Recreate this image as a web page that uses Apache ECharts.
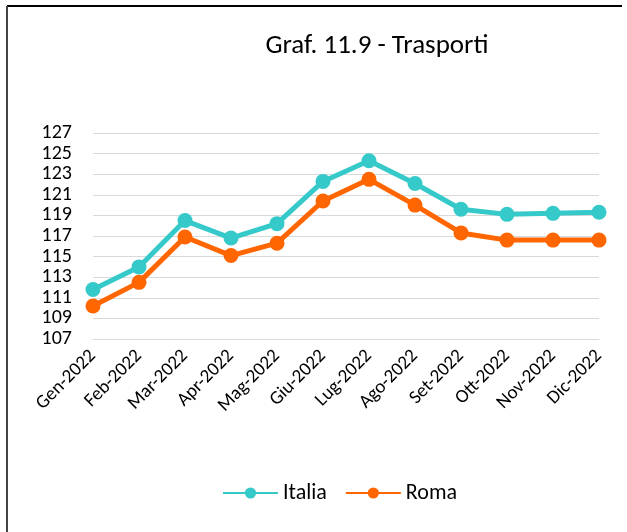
<!DOCTYPE html>
<html>
<head>
<meta charset="utf-8">
<script src="https://cdn.jsdelivr.net/npm/echarts@6/dist/echarts.min.js"></script>
<style>
    html, body {margin: 0; padding: 0; background: #fff;}
    #chart {width: 627px; height: 532px;}
</style>
</head>
<body>
<div id="chart"></div>
<script>
const months = ["Gen-2022", "Feb-2022", "Mar-2022", "Apr-2022", "Mag-2022", "Giu-2022",
    "Lug-2022", "Ago-2022", "Set-2022", "Ott-2022", "Nov-2022", "Dic-2022"];
const italia = [111.8, 114.0, 118.5, 116.8, 118.2, 122.3, 124.3, 122.1, 119.6, 119.1, 119.2, 119.3];
const roma = [110.2, 112.5, 116.9, 115.1, 116.3, 120.4, 122.5, 120.0, 117.3, 116.6, 116.6, 116.6];
const yMin = 107, yMax = 127, yStep = 2;

const font = "Calibri, Carlito, Lato, sans-serif";
const chart = echarts.init(document.getElementById("chart"));

chart.setOption({
    animation: false,
    textStyle: {fontFamily: font, color: "#000"},
    title: {
        text: "Graf. 11.9 - Trasporti",
        left: 372,
        top: 28,
        textAlign: "center",
        textStyle: {fontFamily: font, fontSize: 27, fontWeight: "normal", color: "#000"}
    },
    // frame of the original picture (top and left edges)
    graphic: [
        {type: "line", shape: {x1: 7, y1: 6, x2: 622, y2: 6}, style: {stroke: "#000", lineWidth: 2}},
        {type: "line", shape: {x1: 7, y1: 6, x2: 7, y2: 532}, style: {stroke: "#444", lineWidth: 2}}
    ],
    legend: {
        top: 477,
        left: 217,
        itemWidth: 55,
        itemHeight: 14,
        itemGap: 18,
        textStyle: {fontFamily: font, fontSize: 22, color: "#000"},
        data: ["Italia", "Roma"]
    },
    grid: {left: 93, right: 28, top: 133, bottom: 193, containLabel: false},
    xAxis: {
        type: "category",
        boundaryGap: false,
        data: months,
        axisLine: {show: true, lineStyle: {color: "#d9d9d9", width: 1}},
        axisTick: {show: false},
        axisLabel: {rotate: 45, fontSize: 19, margin: 14, color: "#000", fontFamily: font}
    },
    yAxis: {
        type: "value",
        min: yMin,
        max: yMax,
        interval: yStep,
        axisLine: {show: false},
        axisTick: {show: false},
        splitLine: {show: true, lineStyle: {color: "#d9d9d9", width: 1}},
        axisLabel: {fontSize: 20, margin: 21, color: "#000", fontFamily: font}
    },
    series: [
        {
            name: "Italia",
            type: "line",
            data: italia,
            color: "#36C9C9",
            symbol: "circle",
            symbolSize: 15,
            lineStyle: {width: 5}
        },
        {
            name: "Roma",
            type: "line",
            data: roma,
            color: "#FF6600",
            symbol: "circle",
            symbolSize: 15,
            lineStyle: {width: 5}
        }
    ]
});
</script>
</body>
</html>
